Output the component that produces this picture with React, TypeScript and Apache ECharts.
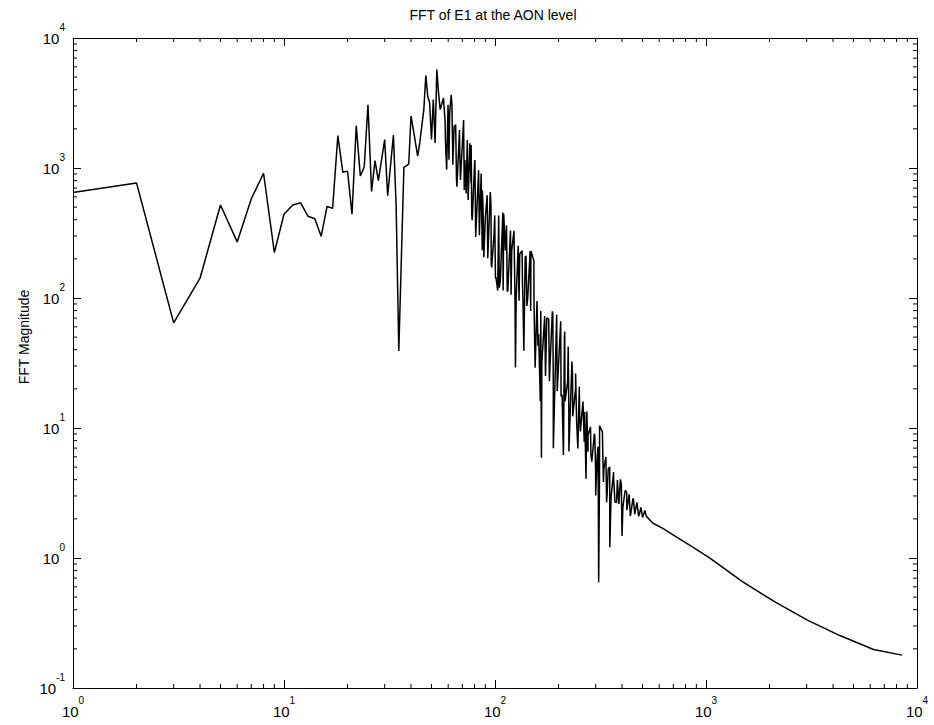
import React, { useEffect, useRef } from "react";
import * as echarts from "echarts";

// Frequency bin index (x) and FFT magnitude (y)
const freqBins = [
  1, 2, 3, 4, 5, 6, 7, 8, 9, 10,
  11, 12, 13, 14, 15, 16, 17, 18, 19, 20,
  21, 22, 23, 24, 25, 26, 27, 28,
  30, 31, 33, 34, 35, 37, 39, 40, 41, 43,
  44, 46, 47, 48, 49, 50, 51, 52, 53, 54,
  55, 57, 58, 59, 61, 62, 63, 64, 66, 68,
  71, 72, 73, 76, 77, 78, 80, 81, 84, 86,
  87, 90, 95, 96, 99, 101, 103, 106, 110, 112,
  115, 120, 123, 125, 126, 131, 135, 137, 139, 143,
  148, 153, 155, 161, 164, 166, 176, 182, 187, 189,
  196, 205, 208, 211, 214, 221, 224, 233, 241, 247,
  252, 266, 270, 276, 285, 297, 300, 305, 310, 313,
  328, 338, 344, 350, 365, 377, 393, 400, 421, 438,
  453, 485, 522, 561, 624, 720, 862, 1031, 1233, 1475,
  2112, 3024, 4337, 6223, 8500,
];

const magnitudes = [
  648, 768, 64.4, 142, 519, 270, 580, 911, 224, 441,
  519, 540, 425, 407, 298, 506, 491, 1776, 926, 946,
  441, 2110, 869, 1019, 3069, 660, 1142, 801,
  1653, 612, 1794, 512, 39.2, 1009, 1069, 2512, 1985, 1236,
  1567, 2826, 5152, 3568, 3175, 1656, 3363, 1560, 5712, 3781,
  2812, 3455, 2283, 970, 2647, 3656, 1380, 2084, 719, 1462,
  2342, 1152, 638, 1548, 762, 397, 1084, 295, 533, 906,
  233, 420, 653, 184, 312, 145, 114, 136, 444, 232,
  114, 231, 329, 29.2, 101, 218, 128, 39.3, 205, 101,
  230, 100, 29.1, 52.5, 16.1, 5.9, 70.3, 29, 79, 7.0,
  74.4, 66, 18, 6.2, 55.2, 22.7, 6.6, 25.6, 20.1, 6.95,
  12.6, 13.3, 4.07, 8.8, 6.2, 8.8, 3.03, 6.1, 0.65, 10.4,
  4.84, 2.68, 4.83, 1.21, 4.04, 2.67, 4.03, 1.48, 3.18, 2.1,
  2.82, 2.22, 2.09, 1.85, 1.69, 1.46, 1.22, 1.01, 0.82, 0.665,
  0.462, 0.333, 0.252, 0.198, 0.179,
];

// Extra readings inside the dense noisy band (alternating lower / upper edge)
const bandBins = [
  58.2, 59.9, 60.5, 62.5, 63.1, 65.1, 65.7, 67.9, 68.6, 71.0,
  71.5, 73.9, 74.6, 77.1, 77.6, 80.3, 80.9, 83.6, 84.3, 87.1,
  87.7, 88.5, 91.8, 92.4, 95.7, 96.4, 99.7, 100.5, 104.1, 104.8,
  108.9, 109.3, 113.4, 114.3, 118.4, 119.2, 123.7, 124.4, 128.8, 130,
  134.4, 135.7, 140.3, 141.6, 146.7, 147.6, 152.9, 153.7, 158.1, 159.9,
  164.8, 166.7, 172, 173.5, 179.7, 181.1, 187.9, 188.9, 196.1, 197.2,
  204.8, 205.7, 213.3, 214.7, 222.3, 223.8, 231.5, 233.5, 241, 243.7,
  250.9, 253.9, 261.2, 264.7, 272.3, 275.9, 283.5, 287.5, 295.8, 299.8,
  308, 312.8, 322.8, 326.4, 335.5, 340.3, 349.7, 354.9, 364.8, 370.4,
  380.2, 386.5, 396.9, 403.7, 414, 421.4, 432.2, 439.6, 450.8, 459.2,
  470.6, 479.4, 491, 500.7, 512.9,
];

const bandMagnitudes = [
  1651, 3066, 1157, 3063, 1058, 2148, 810, 1963, 810, 2145,
  677, 1642, 567, 1501, 434, 1150, 364, 962, 304, 675,
  517, 206, 617, 202, 516, 172, 432, 141.5, 431, 120,
  455, 114, 361, 112, 330, 106, 330, 98.8, 252, 95.2,
  231, 95.2, 211, 87, 230, 79.6, 193, 61, 94.8, 42.7,
  79.4, 31.6, 72.6, 25.1, 68.8, 22.9, 76.4, 21, 68.6, 19.2,
  66.2, 17.5, 50.7, 16, 42.4, 13.4, 32.5, 12.3, 26.2, 11.2,
  20.8, 9.4, 15.96, 7.85, 13.4, 6.57, 10.2, 5.5, 9.03, 4.77,
  7.16, 4.2, 9.33, 3.85, 5.99, 3.22, 5.01, 2.94, 4.58, 2.69,
  3.98, 2.6, 3.7, 2.46, 3.32, 2.33, 3.09, 2.17, 2.88, 2.17,
  2.68, 2.09, 2.45, 2.05, 2.32,
];

// Axis ranges and tick definitions
const xDecades = [1, 10, 100, 1000];
const yDecades = [0.1, 1, 10, 100, 1000];
const minorMultipliers = [2, 3, 4, 5, 6, 7, 8, 9];
const X_MIN = 1;
const X_MAX = 10000;
const Y_MIN = 0.1;
const Y_MAX = 10000;

const chartTitle = "FFT of E1 at the AON level";
const yAxisTitle = "FFT Magnitude";

const FONT = "'Liberation Sans', Arial, Helvetica, sans-serif";
const MAJOR_LEN = 8;
const MINOR_LEN = 4;

function expLabel(v: number): string {
  const e = Math.round(Math.log10(v));
  return `{b|10}{s|${e}}`;
}

const richLabel = {
  b: { fontSize: 15, lineHeight: 24, verticalAlign: "bottom", color: "#000", fontFamily: FONT },
  s: { fontSize: 10, lineHeight: 10, verticalAlign: "top", color: "#000", fontFamily: FONT },
};

export default function App() {
  const ref = useRef<HTMLDivElement>(null);

  useEffect(() => {
    if (!ref.current) return;
    const chart = echarts.init(ref.current, undefined, { renderer: "svg" });

    const lineData = freqBins
      .map((f, i) => [f, magnitudes[i]])
      .concat(bandBins.map((f, i) => [f, bandMagnitudes[i]]))
      .sort((a, b) => a[0] - b[0]);

    const xMinor: number[][] = [];
    xDecades.forEach((d) => minorMultipliers.forEach((m) => xMinor.push([d * m, Y_MIN])));
    const yMinor: number[][] = [];
    yDecades.forEach((d) => minorMultipliers.forEach((m) => yMinor.push([X_MIN, d * m])));

    const axisLine = { show: true, lineStyle: { color: "#000", width: 1 } };
    const majorTick = { show: true, inside: true, length: MAJOR_LEN, lineStyle: { color: "#000", width: 1 } };

    chart.setOption({
      animation: false,
      backgroundColor: "#fff",
      title: {
        text: chartTitle,
        left: 488,
        top: 3,
        textAlign: "center",
        textStyle: { fontSize: 14, fontWeight: "normal", color: "#000", fontFamily: FONT },
      },
      grid: { left: 73, right: 17, top: 38, bottom: 37, containLabel: false },
      xAxis: [
        {
          type: "log",
          logBase: 10,
          min: X_MIN,
          max: X_MAX,
          position: "bottom",
          axisLine,
          axisTick: majorTick,
          splitLine: { show: false },
          axisLabel: {
            show: true,
            margin: 7,
            showMinLabel: true,
            showMaxLabel: true,
            formatter: (v: number) => expLabel(v),
            rich: richLabel,
          },
        },
        {
          type: "log",
          logBase: 10,
          min: X_MIN,
          max: X_MAX,
          position: "top",
          axisLine,
          axisTick: majorTick,
          splitLine: { show: false },
          axisLabel: { show: false },
        },
      ],
      yAxis: [
        {
          type: "log",
          logBase: 10,
          min: Y_MIN,
          max: Y_MAX,
          position: "left",
          axisLine,
          axisTick: majorTick,
          splitLine: { show: false },
          axisLabel: {
            show: true,
            margin: 8,
            padding: [0, 0, 8, 0],
            showMinLabel: true,
            showMaxLabel: true,
            formatter: (v: number) => expLabel(v),
            rich: richLabel,
          },
        },
        {
          type: "log",
          logBase: 10,
          min: Y_MIN,
          max: Y_MAX,
          position: "right",
          axisLine,
          axisTick: majorTick,
          splitLine: { show: false },
          axisLabel: { show: false },
        },
      ],
      graphic: [
        {
          type: "text",
          x: 24,
          y: 337,
          rotation: Math.PI / 2,
          style: {
            text: yAxisTitle,
            fill: "#000",
            font: `14px ${FONT}`,
            textAlign: "center",
            textVerticalAlign: "middle",
          },
        },
      ],
      series: [
        {
          type: "line",
          xAxisIndex: 0,
          yAxisIndex: 0,
          data: lineData,
          showSymbol: false,
          symbol: "none",
          silent: true,
          lineStyle: { color: "#000", width: 1.5 },
        },
        {
          type: "custom",
          xAxisIndex: 0,
          yAxisIndex: 0,
          silent: true,
          clip: false,
          data: xMinor,
          renderItem: (_p: any, api: any) => {
            const v = api.value(0);
            const b = api.coord([v, Y_MIN]);
            const t = api.coord([v, Y_MAX]);
            return {
              type: "group",
              children: [
                { type: "line", shape: { x1: b[0], y1: b[1], x2: b[0], y2: b[1] - MINOR_LEN }, style: { stroke: "#000", lineWidth: 1 } },
                { type: "line", shape: { x1: t[0], y1: t[1], x2: t[0], y2: t[1] + MINOR_LEN }, style: { stroke: "#000", lineWidth: 1 } },
              ],
            };
          },
        },
        {
          type: "custom",
          xAxisIndex: 0,
          yAxisIndex: 0,
          silent: true,
          clip: false,
          data: yMinor,
          renderItem: (_p: any, api: any) => {
            const v = api.value(1);
            const l = api.coord([X_MIN, v]);
            const r = api.coord([X_MAX, v]);
            return {
              type: "group",
              children: [
                { type: "line", shape: { x1: l[0], y1: l[1], x2: l[0] + MINOR_LEN, y2: l[1] }, style: { stroke: "#000", lineWidth: 1 } },
                { type: "line", shape: { x1: r[0], y1: r[1], x2: r[0] - MINOR_LEN, y2: r[1] }, style: { stroke: "#000", lineWidth: 1 } },
              ],
            };
          },
        },
      ],
    });

    return () => chart.dispose();
  }, []);

  return (
    <div
      ref={ref}
      style={{ position: "fixed", left: 0, top: 0, width: 934, height: 725, background: "#fff" }}
    />
  );
}
